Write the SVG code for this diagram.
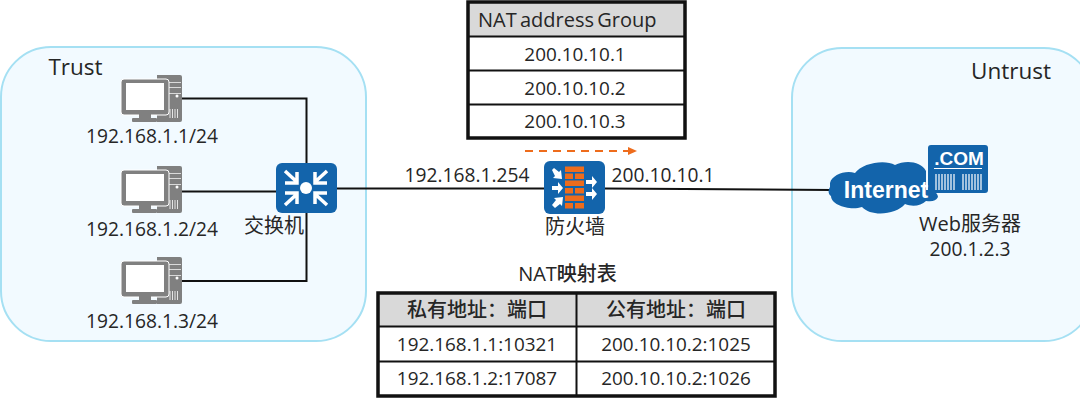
<svg xmlns="http://www.w3.org/2000/svg" width="1080" height="402" viewBox="0 0 1080 402">
<style>
text{font-family:"Open Sans","Noto Sans CJK SC",sans-serif;font-size:19.200px;fill:#262626;text-anchor:middle}
text.cell{font-size:18.900px}
text.cjk{font-size:20px}
text.big{font-size:22.500px}
text.head{font-size:20px;font-weight:500}
text.logo1{font-family:"Liberation Sans",sans-serif;font-weight:700;fill:#fff;font-size:23px}
text.logo2{font-family:"Liberation Sans",sans-serif;font-weight:700;fill:#fff;font-size:19px}
.zone{fill:#f2faff;stroke:#a5e0f3;stroke-width:2}
.wire{fill:none;stroke:#111;stroke-width:2}
.tb{fill:none;stroke:#111;stroke-width:2}
.tbo{fill:none;stroke:#111;stroke-width:3.500}
.hd{fill:#d9d9d9}
.blue{fill:#1364ab}
.w{fill:#fff}
.wl{stroke:#fff;stroke-width:3.500;fill:none}
.or{fill:#ee6c1c}
.gr{fill:#808080}
</style>
<defs>
<g id="pc">
<path class="gr" d="M36 0h23a2 2 0 0 1 2 2v43a2 2 0 0 1-2 2H36z"/>
<rect class="w" x="48" y="7" width="12" height="1" opacity=".7"/>
<rect class="w" x="48" y="12" width="12" height="1" opacity=".7"/>
<rect class="w" x="48" y="18" width="12" height="1" opacity=".7"/>
<circle class="w" cx="56" cy="21" r="1.500"/>
<path stroke="#fff" stroke-width=".8" d="M49 34v9M51.500 34v9M54 34v9M56.500 34v9"/>
<rect class="gr" x="0" y="4" width="48" height="36" rx="3" stroke="#fff" stroke-width="1"/>
<rect class="w" x="5" y="8" width="38" height="27"/>
<rect class="gr" x="18" y="39" width="12" height="5"/>
<rect class="gr" x="11" y="43" width="25" height="4" rx="1"/>
</g>
</defs>
<rect class="zone" x="1" y="47" width="365" height="294" rx="50"/>
<rect class="zone" x="792" y="48" width="302" height="293" rx="50"/>
<g id="connectors">
<path class="wire" d="M182 98.500H306.500V165M182 191.500H277M306.500 210V281H182"/>
<path class="wire" d="M336 188.500H545M604 188.500L832 190"/>
<path fill="none" stroke="#ee6c1c" stroke-width="2" stroke-dasharray="8 6" d="M525 151H630"/>
<path class="or" d="M628 147l9 4-9 4z"/>
</g>
<g id="trust-label"><text class="big" x="75.500" y="75">Trust</text></g>
<g id="untrust-label"><text class="big" x="1011" y="79">Untrust</text></g>
<g id="pc1"><use href="#pc" x="121" y="75"/><text x="152" y="143">192.168.1.1/24</text></g>
<g id="pc2"><use href="#pc" x="121" y="166"/><text x="152" y="236">192.168.1.2/24</text></g>
<g id="pc3"><use href="#pc" x="121" y="257"/><text x="152" y="328">192.168.1.3/24</text></g>
<g id="switch">
<rect class="blue" x="276" y="163" width="61" height="50" rx="6"/>
<circle class="w" cx="306" cy="188" r="6"/>
<path class="wl" d="M285 171l12 11M285 183h12v-11M327 171l-12 11M327 183h-12v-11M285 205l12-11M285 193h12v11M327 205l-12-11M327 193h-12v11"/>
<text class="cjk" x="274" y="233">交换机</text>
</g>
<g id="firewall">
<rect class="blue" x="544" y="161" width="61" height="53" rx="6"/>
<g class="or">
<rect x="565" y="166.500" width="19" height="5.500"/>
<rect x="565" y="173.500" width="8" height="5.500"/><rect x="575" y="173.500" width="9" height="5.500"/>
<rect x="565" y="180.500" width="19" height="5.500"/>
<rect x="565" y="188" width="8" height="5.500"/><rect x="575" y="188" width="9" height="5.500"/>
<rect x="565" y="195.500" width="19" height="5.500"/>
<rect x="565" y="203" width="8" height="5.500"/><rect x="575" y="203" width="9" height="5.500"/>
</g>
<path class="w" d="M552 170l2-2 5 4 2-2 1 9-9-1 2-2zM552 186h6v-4l5 6-5 6v-4h-6zM552 205l4-5-2-2 9-1-1 9-2-2-5 4zM586 180h6v-4l5 6-5 6v-4h-6zM586 192h6v-4l5 6-5 6v-4h-6z"/>
<text class="cjk" x="575" y="234">防火墙</text>
</g>
<g id="ip-left"><text x="467" y="182">192.168.1.254</text></g>
<g id="ip-right"><text x="663" y="182">200.10.10.1</text></g>
<g id="nat-group">
<rect class="hd" x="468" y="2" width="217" height="34"/>
<path class="tb" d="M468 36.500H685M468 70.500H685M468 104.500H685"/>
<rect class="tbo" x="468" y="2" width="217" height="136"/>
<text class="head" x="478" y="27" style="text-anchor:start;word-spacing:-2px">NAT address Group</text>
<text class="cell" x="575" y="61">200.10.10.1</text>
<text class="cell" x="575" y="95">200.10.10.2</text>
<text class="cell" x="575" y="128">200.10.10.3</text>
</g>
<g id="web">
<rect class="blue" x="928" y="145" width="60" height="48" rx="3"/>
<text class="logo2" x="959" y="165">.COM</text>
<path stroke="#fff" stroke-width="1.200" d="M934 168.500H982"/>
<path stroke="#fff" stroke-width="1.200" d="M936 174v16M939 174v16M942 174v16M945 174v16M948 174v16M951 174v16M954 174v16M963 174v16M966 174v16M969 174v16M972 174v16M975 174v16M978 174v16M981 174v16"/>
<text class="cjk" x="970" y="231">Web服务器</text>
<text x="970" y="256">200.1.2.3</text>
</g>
<g id="internet">
<path class="blue" d="M830 183c2-8 15-13 25-10 7-10 30-14 40-8 10-5 26-4 31 6v19h5c5 1 7 5 7 7-2 4-6 5-12 4-5 5-14 6-21 3-9 11-34 13-43 3-12 4-31-2-31-11-3-2-3-6-1-9z"/>
<text class="logo1" x="886" y="198">Internet</text>
</g>
<g id="nat-map">
<text class="head" x="567.500" y="281">NAT映射表</text>
<rect class="hd" x="378" y="293" width="397" height="33"/>
<path class="tb" d="M378 326.500H775M378 361.500H775M576.500 293V396"/>
<rect class="tbo" x="378" y="293" width="397" height="103"/>
<text class="head" x="477" y="317">私有地址：端口</text>
<text class="head" x="676" y="317">公有地址：端口</text>
<text class="cell" x="477" y="351">192.168.1.1:10321</text>
<text class="cell" x="676" y="351">200.10.10.2:1025</text>
<text class="cell" x="477" y="385">192.168.1.2:17087</text>
<text class="cell" x="676" y="385">200.10.10.2:1026</text>
</g>
</svg>
